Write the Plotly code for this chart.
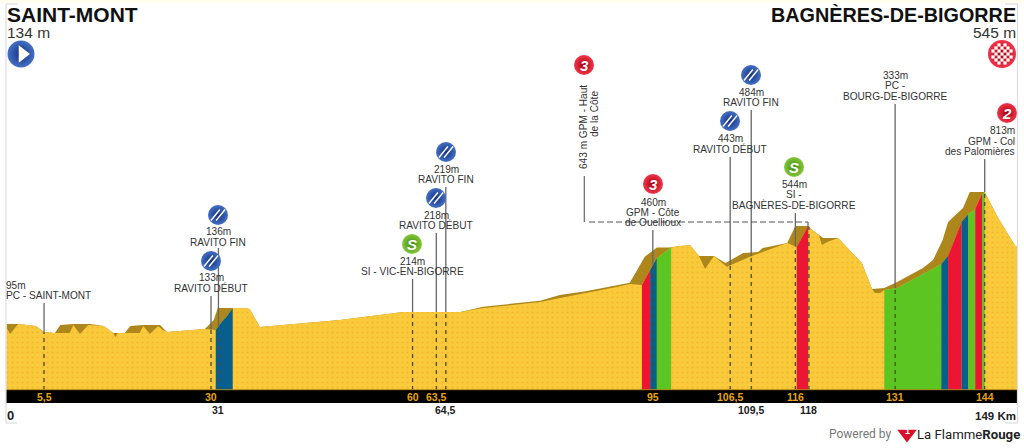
import numpy as np
import plotly.graph_objects as go

# ---------- data ----------
outline_km = [0, 1.7, 4.3, 5.5, 7.1, 7.9, 9.8, 12.3, 14.3, 15.7, 17.4, 18.2, 20.1, 22.6, 23.6, 29.2, 30.5, 31.1,
              35.1, 35.8, 37.3, 49.1, 58.4, 66.8, 70.2, 78.6, 81.5, 85.5, 89.9, 91.8, 92.9, 94.0, 95.8, 97.7,
              99.2, 100.7, 102, 104.2, 105.9, 108.5, 110.7, 111.4, 115, 116.2, 118.1, 118.7, 120.3, 122.5, 126.0,
              127.5, 129.3, 131.2, 135, 136.5, 137.9, 138.7, 140.9, 141.9, 144.1, 146, 148.6, 149]
outline_m = [139, 139, 129, 98, 93, 134, 139, 139, 129, 93, 93, 129, 134, 134, 98, 114, 160, 221,
             221, 216, 124, 160, 200, 200, 227, 258, 287, 307, 338, 350, 415, 482, 530, 530,
             537, 541, 486, 486, 450, 501, 506, 527, 552, 639, 639, 619, 578, 578, 450,
             318, 323, 353, 425, 466, 568, 660, 731, 813, 813, 685, 537, 537]

surface_km = [0, 0.5, 1.7, 4.3, 5.5, 7.1, 9.3, 9.8, 10.8, 12.0, 14.3, 15.7, 16.0, 16.4, 17.6, 19.6, 20.1, 21.1, 22.3,
              23.0, 23.6, 29.2, 30.8, 31.7, 32.4, 33.3, 35.1, 35.8, 37.3, 49.1, 58.4, 66.8, 70.2, 78.6, 81.5, 85.5,
              89.9, 91.8, 93.6, 94.8, 95.8, 97.4, 97.9, 99.2, 100.7, 102, 102.9, 104.2, 106.1, 109.5, 111, 113.5,
              115, 116.4, 118.1, 118.7, 119.7, 120.1, 120.9, 122.5, 126, 127.5, 127.9, 128.7, 129.3, 131.2, 135.6,
              137.7, 138.7, 140.7, 141.7, 142.7, 143.7, 144.1, 146, 148.6, 149]
surface_m = [119, 88, 139, 129, 98, 93, 93, 134, 88, 134, 129, 93, 73, 93, 93, 93, 129, 88, 129,
             108, 98, 114, 108, 151, 176, 221, 221, 216, 124, 160, 200, 200, 221, 251, 272, 297,
             328, 343, 338, 415, 476, 517, 532, 537, 541, 486, 420, 486, 431, 482, 501, 532,
             552, 532, 639, 619, 590, 542, 557, 578, 450, 318, 297, 297, 313, 323, 404,
             445, 486, 660, 700, 726, 802, 813, 685, 537, 537]

climb_start_km = [30.8, 93.6, 94.8, 95.8, 116.4, 129.3, 137.7, 138.7, 140.7, 141.7, 142.7, 143.7]
climb_end_km   = [33.3, 94.8, 95.8, 97.9, 118.1, 137.7, 138.7, 140.7, 141.7, 142.7, 143.7, 144.1]
climb_class    = ["blue", "red", "blue", "green", "red", "green", "blue", "red", "blue", "green", "red", "green"]

stop_km = [5.5, 30.1, 31.2, 59.8, 63.3, 64.7, 95.2, 106.6, 109.7, 116.2, 118.2, 130.9, 144.1]
stop_km_label = ["5,5", "30", "31", "60", "63,5", "64,5", "95", "106,5", "109,5", "116", "118", "131", "144"]

start_name, start_alt = "SAINT-MONT", "134 m"
finish_name, finish_alt = "BAGNÈRES-DE-BIGORRE", "545 m"
total_km_label = "149 Km"

# ---------- scales and styles ----------
BASE_M = -198
X_RANGE = [-0.987, 149.89]
Y_RANGE = [-493.6, 1792.2]
def m_at(py):
    return 134 + (325 - py) / 0.196

COL = dict(red="#EC1534", blue="#075F8E", green="#5CC522")
BROWN, YELLOW, SPECK = "#AD861C", "#F9CA3A", "#F1AE2C"
FONT = "Liberation Sans"
TXT = "#333333"
LABEL_SIZE = 10.1

fig = go.Figure()
anns, shapes = [], []

def txt(x, y, s, size=LABEL_SIZE, color=TXT, bold=False, anchor="center", xref="x2", family=FONT, angle=0):
    anns.append(dict(x=x, y=y, xref=xref, yref="y2", text=f"<b>{s}</b>" if bold else s, showarrow=False,
                     xanchor=anchor, yanchor="middle", align=anchor,
                     font=dict(family=family, size=size, color=color), textangle=angle,
                     borderpad=0, borderwidth=0))

def poly(xs, ys, color, **kw):
    fig.add_trace(go.Scatter(x=[xs[0]] + list(xs) + [xs[-1]], y=[BASE_M] + list(ys) + [BASE_M], mode="lines",
                             line=dict(width=0), fill="toself", fillcolor=color, hoverinfo="skip",
                             showlegend=False, **kw))

# ---------- profile ----------
poly(outline_km, outline_m, BROWN)
poly(surface_km, surface_m, YELLOW,
     fillpattern=dict(shape=".", bgcolor=YELLOW, fgcolor=SPECK, fgopacity=0.7, size=5, solidity=0.14))
for k0, k1, c in zip(climb_start_km, climb_end_km, climb_class):
    inner = [k for k in surface_km if k0 < k < k1]
    xs = [k0] + inner + [k1]
    poly(xs, list(np.interp(xs, surface_km, surface_m)), COL[c])

# ---------- stop lines ----------
line_top_py = [303, 296, 248, 279, 233, 187, 230, 157, 110, 213, None, 104, 159]
for k, top in zip(stop_km, line_top_py):
    surf = float(np.interp(k, surface_km, surface_m))
    fig.add_trace(go.Scatter(x=[k, k], y=[BASE_M, surf], mode="lines", hoverinfo="skip", showlegend=False,
                             line=dict(color="#4A4A3A", width=1.3, dash="4px,4px")))
    if top is not None:
        fig.add_trace(go.Scatter(x=[k, k], y=[surf, m_at(top)], mode="lines", hoverinfo="skip", showlegend=False,
                                 line=dict(color="#666666", width=1.3)))

# ---------- band ----------
shapes.append(dict(type="rect", xref="x2", yref="y2", x0=6, x1=1017, y0=390, y1=403,
                   fillcolor="black", line=dict(width=0)))
shapes.append(dict(type="line", xref="x2", yref="y2", x0=6, x1=1017, y0=389.7, y1=389.7,
                   line=dict(color=BROWN, width=1)))
band_idx = [0, 1, 3, 4, 6, 7, 9, 11, 12]
for i in band_idx:
    txt(stop_km[i], 396.6, stop_km_label[i], size=10.5, color="#E6A50C", bold=True, xref="x")
below_idx = [2, 5, 8, 10]
for i in below_idx:
    txt(stop_km[i], 410, stop_km_label[i], size=10.5, color="#222222", bold=True, xref="x")
txt(7, 415.5, "0", size=13, color="#222222", bold=True, anchor="left")
txt(1015.5, 415.5, total_km_label, size=11.5, color="#222222", bold=True, anchor="right")

# ---------- frame ----------
FRAME = "#DDDDDD"
for x0, y0, x1, y1 in [(6, 4, 6, 423), (6, 4, 18, 4), (6, 423, 17, 423),
                       (1017.5, 4, 1017.5, 423), (1005, 4, 1017.5, 4), (1005, 423, 1017.5, 423)]:
    shapes.append(dict(type="line", xref="x2", yref="y2", x0=x0, x1=x1, y0=y0, y1=y1, line=dict(color=FRAME, width=1.2)))
shapes.append(dict(type="rect", xref="x2", yref="y2", x0=0, x1=1024, y0=0, y1=2.5,
                   fillcolor="#FFFDEB", line=dict(width=0)))

# ---------- titles ----------
txt(7, 14.5, start_name, size=21, color="#111111", bold=True, anchor="left")
txt(7, 32.5, start_alt, size=15.5, anchor="left")
txt(1015.5, 14.5, finish_name, size=19.8, color="#111111", bold=True, anchor="right")
txt(1015.5, 32.5, finish_alt, size=15.5, anchor="right")

# ---------- stop labels ----------
label_rows = [
    (6, "left", [(285, "95m"), (295.5, "PC - SAINT-MONT")]),
    (211, "center", [(277, "133m"), (288, "RAVITO DÉBUT")]),
    (218, "center", [(231, "136m"), (242, "RAVITO FIN")]),
    (412, "center", [(261, "214m"), (271.7, "SI - VIC-EN-BIGORRE")]),
    (436, "center", [(215, "218m"), (225, "RAVITO DÉBUT")]),
    (446, "center", [(169, "219m"), (179, "RAVITO FIN")]),
    (653, "center", [(202, "460m"), (212, "GPM - Côte"), (222, "de Ouellioux")]),
    (730, "center", [(138.7, "443m"), (148.7, "RAVITO DÉBUT")]),
    (751, "center", [(92.7, "484m"), (102.7, "RAVITO FIN")]),
    (794, "center", [(184, "544m"), (194, "SI -"), (205, "BAGNÈRES-DE-BIGORRE")]),
    (895, "center", [(75.7, "333m"), (85.5, "PC -"), (96, "BOURG-DE-BIGORRE")]),
    (1015, "right", [(130.7, "813m"), (141, "GPM - Col"), (151.5, "des Palomières")]),
]
for x, anchor, rows in label_rows:
    for y, s in rows:
        txt(x, y, s, anchor=anchor)

# rotated climb label with its offset leader
txt(583, 127, "643 m GPM - Haut", angle=-90)
txt(594, 114, "de la Côte", angle=-90)
shapes.append(dict(type="line", xref="x2", yref="y2", x0=584.3, x1=584.3, y0=176, y1=222, line=dict(color="#666666", width=1.2)))
shapes.append(dict(type="line", xref="x2", yref="y2", x0=589, x1=808, y0=222, y1=222,
                   line=dict(color="#555555", width=1.1, dash="6px,3px")))
shapes.append(dict(type="line", xref="x2", yref="y2", x0=808, x1=808, y0=222, y1=227, line=dict(color="#555555", width=1.1)))

# ---------- icons ----------
ICON = dict(red=("#F2364A", "#A30010"), blue=("#4470C4", "#142F80"), green=("#86C83A", "#3F8A12"))
icons = [(21, 54, 27, "blue"), (1002, 54, 28, "red"), (1007, 113, 20, "red"), (584, 65, 20, "red"), (653, 184, 20, "red"),
         (211, 261, 20, "blue"), (218, 215, 20, "blue"), (436, 198, 20, "blue"), (446, 152, 20, "blue"),
         (730, 121, 20, "blue"), (751, 75, 20, "blue"), (412, 244, 20, "green"), (794, 167, 20, "green")]
for x, y, d, c in icons:
    fig.add_trace(go.Scatter(x=[x], y=[y], xaxis="x2", yaxis="y2", mode="markers", hoverinfo="skip", showlegend=False,
                             marker=dict(size=d, color=ICON[c][0], line=dict(width=0),
                                         gradient=dict(type="radial", color=ICON[c][1]))))
for x, y, s in [(1007, 113, "2"), (584, 65, "3"), (653, 184, "3"), (412, 244, "S"), (794, 167, "S")]:
    txt(x, y + 0.5, f"<i>{s}</i>", size=15, color="white", bold=True)
for x, y, d, c in icons:
    if c == "blue" and d == 20:
        for off in (-2.6, 2.6):
            shapes.append(dict(type="line", xref="x2", yref="y2", x0=x - 4.5 + off, x1=x + 4.5 + off,
                               y0=y + 5.5, y1=y - 5.5, line=dict(color="white", width=1.4)))
# start triangle
fig.add_trace(go.Scatter(x=[22.5], y=[54], xaxis="x2", yaxis="y2", mode="markers", hoverinfo="skip", showlegend=False,
                         marker=dict(symbol="triangle-right", size=15, color="white", line=dict(width=0))))
# finish checker
cx, cy, step = [], [], 3
for i in range(-3, 4):
    for j in range(-3, 4):
        if (i + j) % 2 == 0 and (i * i + j * j) * step * step <= 100:
            cx.append(1002 + i * step)
            cy.append(54 + j * step)
fig.add_trace(go.Scatter(x=cx, y=cy, xaxis="x2", yaxis="y2", mode="markers", hoverinfo="skip", showlegend=False,
                         marker=dict(symbol="square", size=3.2, color="white", line=dict(width=0))))

# ---------- footer ----------
txt(860, 434, "Powered by", size=12, color="#777777", family="Roboto")
fig.add_trace(go.Scatter(x=[907], y=[434], xaxis="x2", yaxis="y2", mode="markers", hoverinfo="skip", showlegend=False,
                         marker=dict(symbol="triangle-down", size=17, color="#D8102A", line=dict(width=0))))
txt(907, 431, "1", size=9, color="white", bold=True)
txt(917, 434, 'La Flamme<b>Rouge</b>', size=13.2, color="#222222", anchor="left", family="Roboto")

ax = dict(visible=False, fixedrange=True)
fig.update_layout(
    width=1024, height=448, margin=dict(l=0, r=0, t=0, b=0), autosize=False,
    paper_bgcolor="white", plot_bgcolor="white", showlegend=False,
    xaxis=dict(range=X_RANGE, domain=[0, 1], **ax),
    yaxis=dict(range=Y_RANGE, domain=[0, 1], **ax),
    xaxis2=dict(range=[0, 1024], overlaying="x", **ax),
    yaxis2=dict(range=[448, 0], overlaying="y", **ax),
    annotations=anns, shapes=shapes,
)
fig.write_html("out.html", config=dict(displayModeBar=False),
               post_script="document.body.style.margin='0';document.documentElement.style.overflow='hidden';")
